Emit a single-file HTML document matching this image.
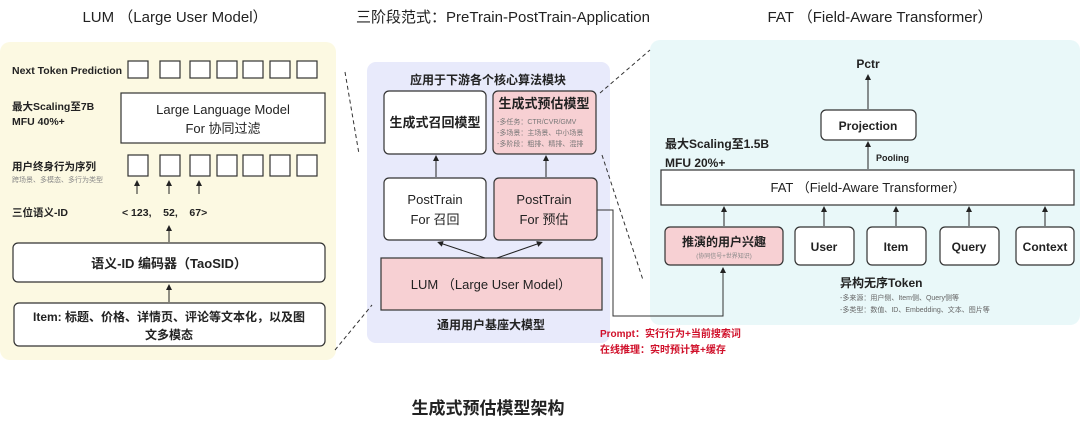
<!DOCTYPE html>
<html><head><meta charset="utf-8"><style>
body{margin:0;background:#fff}
svg{display:block;font-family:"Liberation Sans","Noto Sans CJK SC",sans-serif}
</style></head><body>
<svg width="1080" height="427" viewBox="0 0 1080 427" xmlns="http://www.w3.org/2000/svg">
<defs>
<marker id="a" markerWidth="6" markerHeight="6" refX="3" refY="3" orient="auto"><path d="M0,0 L6,3 L0,6 z" fill="#222"/></marker>
</defs>
<!-- titles -->
<text x="175" y="22" font-size="15" text-anchor="middle" fill="#222">LUM （Large User Model）</text>
<text x="503" y="22" font-size="15" text-anchor="middle" fill="#222">三阶段范式：PreTrain-PostTrain-Application</text>
<text x="880" y="22" font-size="15" text-anchor="middle" fill="#222">FAT （Field-Aware Transformer）</text>
<text x="488" y="414" font-size="17" font-weight="bold" text-anchor="middle" fill="#222">生成式预估模型架构</text>

<!-- panels -->
<rect x="0" y="42" width="336" height="318" rx="10" fill="#fcf9e2"/>
<rect x="367" y="62" width="243" height="281" rx="9" fill="#e8eafb"/>
<rect x="650" y="40" width="430" height="285" rx="10" fill="#e9f8f9"/>

<!-- dashed -->
<g stroke="#333" stroke-dasharray="4,3" stroke-width="1" fill="none">
<line x1="345" y1="72" x2="359" y2="154"/>
<line x1="335" y1="350" x2="372" y2="305"/>
<line x1="600" y1="93" x2="650" y2="50"/>
<line x1="602" y1="155" x2="643" y2="280"/>
</g>

<!-- LEFT -->
<g font-size="10.5" fill="#222">
<text x="12" y="74" font-weight="bold">Next Token Prediction</text>
<text x="12" y="110" font-weight="bold">最大Scaling至7B</text>
<text x="12" y="125" font-weight="bold">MFU 40%+</text>
<text x="12" y="170" font-weight="bold">用户终身行为序列</text>
<text x="12" y="182" font-size="7" fill="#888">跨场景、多模态、多行为类型</text>
<text x="12" y="216" font-weight="bold">三位语义-ID</text>
<text x="122" y="216" font-weight="bold">&lt; 123,&#160;&#160;&#160; 52,&#160;&#160;&#160; 67&gt;</text>
</g>
<g fill="#fff" stroke="#333" stroke-width="1.2">
<rect x="128" y="61" width="20" height="17"/><rect x="160" y="61" width="20" height="17"/><rect x="190" y="61" width="20" height="17"/><rect x="217" y="61" width="20" height="17"/><rect x="243" y="61" width="20" height="17"/><rect x="270" y="61" width="20" height="17"/><rect x="297" y="61" width="20" height="17"/>
<rect x="121" y="93" width="204" height="50"/>
<rect x="128" y="155" width="20" height="21"/><rect x="160" y="155" width="20" height="21"/><rect x="190" y="155" width="20" height="21"/><rect x="217" y="155" width="20" height="21"/><rect x="243" y="155" width="20" height="21"/><rect x="270" y="155" width="20" height="21"/><rect x="297" y="155" width="20" height="21"/>
<rect x="13" y="243" width="312" height="39" rx="5"/>
<rect x="14" y="303" width="311" height="43" rx="5"/>
</g>
<g font-size="13" fill="#222" text-anchor="middle">
<text x="223" y="114">Large Language Model</text>
<text x="223" y="133">For 协同过滤</text>
<text x="169" y="268" font-weight="bold">语义-ID 编码器（TaoSID）</text>
<text x="169" y="321" font-weight="bold" font-size="12">Item: 标题、价格、详情页、评论等文本化，以及图</text>
<text x="169" y="339" font-weight="bold" font-size="12">文多模态</text>
</g>
<g stroke="#222" stroke-width="1" marker-end="url(#a)">
<line x1="137" y1="194" x2="137" y2="183"/><line x1="169" y1="194" x2="169" y2="183"/><line x1="199" y1="194" x2="199" y2="183"/>
<line x1="169" y1="242" x2="169" y2="228"/><line x1="169" y1="302" x2="169" y2="287"/>
</g>

<!-- MIDDLE -->
<text x="488" y="84" font-size="12" font-weight="bold" text-anchor="middle" fill="#222">应用于下游各个核心算法模块</text>
<rect x="384" y="91" width="102" height="63" rx="5" fill="#fff" stroke="#333" stroke-width="1.2"/>
<rect x="493" y="91" width="103" height="63" rx="5" fill="#f7d0d3" stroke="#333" stroke-width="1.2"/>
<rect x="384" y="178" width="102" height="62" rx="5" fill="#fff" stroke="#333" stroke-width="1.2"/>
<rect x="494" y="178" width="103" height="62" rx="5" fill="#f7d0d3" stroke="#333" stroke-width="1.2"/>
<rect x="381" y="258" width="221" height="52" fill="#f7d0d3" stroke="#333" stroke-width="1.2"/>
<g fill="#222" text-anchor="middle">
<text x="435" y="127" font-size="13" font-weight="bold">生成式召回模型</text>
<text x="544" y="108" font-size="13" font-weight="bold">生成式预估模型</text>
<text x="435" y="204" font-size="13">PostTrain</text>
<text x="435" y="224" font-size="13">For 召回</text>
<text x="544" y="204" font-size="13">PostTrain</text>
<text x="544" y="224" font-size="13">For 预估</text>
<text x="491" y="289" font-size="13">LUM （Large User Model）</text>
<text x="491" y="329" font-size="12" font-weight="bold">通用用户基座大模型</text>
</g>
<g font-size="7" fill="#777">
<text x="497" y="124">-多任务：CTR/CVR/GMV</text>
<text x="497" y="135">-多场景：主场景、中小场景</text>
<text x="497" y="146">-多阶段：粗排、精排、混排</text>
</g>
<g stroke="#222" stroke-width="1" marker-end="url(#a)">
<line x1="436" y1="177" x2="436" y2="158"/><line x1="546" y1="177" x2="546" y2="158"/>
<line x1="485" y1="258" x2="440" y2="243"/><line x1="497" y1="258" x2="540" y2="243"/>
</g>
<polyline points="597,210 613,210 613,316 723,316 723,270" fill="none" stroke="#333" stroke-width="1" marker-end="url(#a)"/>
<text x="600" y="337" font-size="10" font-weight="bold" fill="#d0102a">Prompt：实行行为+当前搜索词</text>
<text x="600" y="353" font-size="10" font-weight="bold" fill="#d0102a">在线推理：实时预计算+缓存</text>

<!-- RIGHT -->
<text x="868" y="68" font-size="12" font-weight="bold" text-anchor="middle" fill="#222">Pctr</text>
<rect x="821" y="110" width="95" height="30" rx="5" fill="#fff" stroke="#333" stroke-width="1.2"/>
<text x="868" y="130" font-size="12" font-weight="bold" text-anchor="middle" fill="#222">Projection</text>
<text x="665" y="148" font-size="12" font-weight="bold" fill="#222">最大Scaling至1.5B</text>
<text x="665" y="167" font-size="12" font-weight="bold" fill="#222">MFU 20%+</text>
<text x="876" y="161" font-size="9" font-weight="bold" fill="#222">Pooling</text>
<rect x="661" y="170" width="413" height="35" fill="#fff" stroke="#333" stroke-width="1.2"/>
<text x="868" y="192" font-size="13" text-anchor="middle" fill="#222">FAT （Field-Aware Transformer）</text>
<g stroke="#333" stroke-width="1.2">
<rect x="665" y="227" width="118" height="38" rx="5" fill="#f7d0d3"/>
<rect x="795" y="227" width="59" height="38" rx="5" fill="#fff"/>
<rect x="867" y="227" width="59" height="38" rx="5" fill="#fff"/>
<rect x="940" y="227" width="59" height="38" rx="5" fill="#fff"/>
<rect x="1016" y="227" width="58" height="38" rx="5" fill="#fff"/>
</g>
<g fill="#222" text-anchor="middle" font-weight="bold">
<text x="724" y="246" font-size="12">推演的用户兴趣</text>
<text x="724" y="258" font-size="6" font-weight="normal" fill="#888">(协同信号+世界知识)</text>
<text x="824" y="251" font-size="12">User</text>
<text x="896" y="251" font-size="12">Item</text>
<text x="969" y="251" font-size="12">Query</text>
<text x="1045" y="251" font-size="12">Context</text>
</g>
<text x="840" y="287" font-size="12" font-weight="bold" fill="#222">异构无序Token</text>
<text x="840" y="300" font-size="7" fill="#666">-多来源：用户侧、Item侧、Query侧等</text>
<text x="840" y="312" font-size="7" fill="#666">-多类型：数值、ID、Embedding、文本、图片等</text>
<g stroke="#222" stroke-width="1" marker-end="url(#a)">
<line x1="868" y1="109" x2="868" y2="77"/>
<line x1="868" y1="169" x2="868" y2="144"/>
<line x1="724" y1="226" x2="724" y2="209"/>
<line x1="824" y1="226" x2="824" y2="209"/>
<line x1="896" y1="226" x2="896" y2="209"/>
<line x1="969" y1="226" x2="969" y2="209"/>
<line x1="1045" y1="226" x2="1045" y2="209"/>
</g>
</svg>
</body></html>
